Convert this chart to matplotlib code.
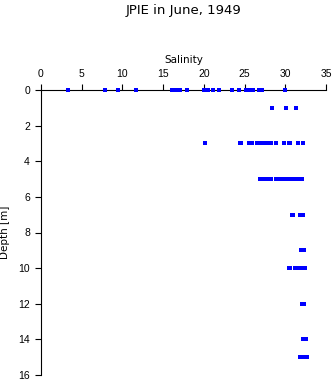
import matplotlib
matplotlib.use("Agg")
import matplotlib.pyplot as plt

# salinity readings per depth (m)
depth_0 = [3.3, 7.9, 9.4, 11.7, 16.1, 16.4, 16.7, 17.1, 17.9, 20.0, 20.3, 20.5,
           21.1, 21.8, 23.5, 24.3, 25.2, 25.5, 25.8, 26.0, 26.8, 27.2, 30.0]
depth_1 = [28.4, 30.1, 31.3]
depth_3 = [20.1, 24.4, 24.6, 25.6, 25.9, 26.5, 26.8, 27.1, 27.4, 27.6, 28.1, 28.3,
           28.9, 29.9, 30.4, 30.6, 31.6, 32.2]
depth_5 = [26.9, 27.2, 27.5, 27.8, 28.1, 28.3, 28.9, 29.2, 29.5, 29.8, 30.1, 30.4,
           30.7, 31.0, 31.2, 31.7, 32.0]
depth_7 = [30.8, 31.0, 31.8, 32.0, 32.2]
depth_9 = [31.9, 32.1, 32.3]
depth_10 = [30.4, 30.6, 31.2, 31.5, 31.8, 32.1, 32.4]
depth_12 = [32.1, 32.3]
depth_14 = [32.2, 32.5]
depth_15 = [31.8, 32.1, 32.4, 32.7]

depths = [0, 1, 3, 5, 7, 9, 10, 12, 14, 15]
salinity = [depth_0, depth_1, depth_3, depth_5, depth_7, depth_9, depth_10,
            depth_12, depth_14, depth_15]

xticks = [0, 5, 10, 15, 20, 25, 30, 35]
yticks = [0, 2, 4, 6, 8, 10, 12, 14, 16]

plt.rcParams['font.family'] = ['Liberation Sans', 'DejaVu Sans']

fig = plt.figure(figsize=(3.35, 3.84), dpi=100)
ax = fig.add_axes([41/335, 1-375/384, 285/335, 285/384])

for d, vals in zip(depths, salinity):
    ax.plot(vals, [d]*len(vals), linestyle="none", marker="s", markersize=2.2,
            markeredgewidth=0, color="#0000ff", clip_on=False, zorder=3,
            antialiased=False)

ax.set_xlim(0, 35)
ax.set_ylim(16, 0)
ax.xaxis.set_ticks_position("top")
ax.xaxis.set_label_position("top")
ax.set_xticks(xticks)
ax.set_yticks(yticks)
ax.tick_params(axis="both", labelsize=7.5, length=4, width=0.8, pad=4, color="black")
ax.spines["right"].set_visible(False)
ax.spines["bottom"].set_visible(False)
ax.spines["left"].set_linewidth(0.8)
ax.spines["top"].set_linewidth(0.8)
ax.set_xlabel("Salinity", fontsize=7.5, family="DejaVu Sans", labelpad=4)
ax.set_ylabel("Depth [m]", fontsize=7.5, family="DejaVu Sans", labelpad=6)

fig.text(183.5/335, 1-10.5/384, "JPIE in June, 1949", ha="center", va="center",
         fontsize=9.5, family="DejaVu Sans")

fig.savefig("out.png", dpi=100)
